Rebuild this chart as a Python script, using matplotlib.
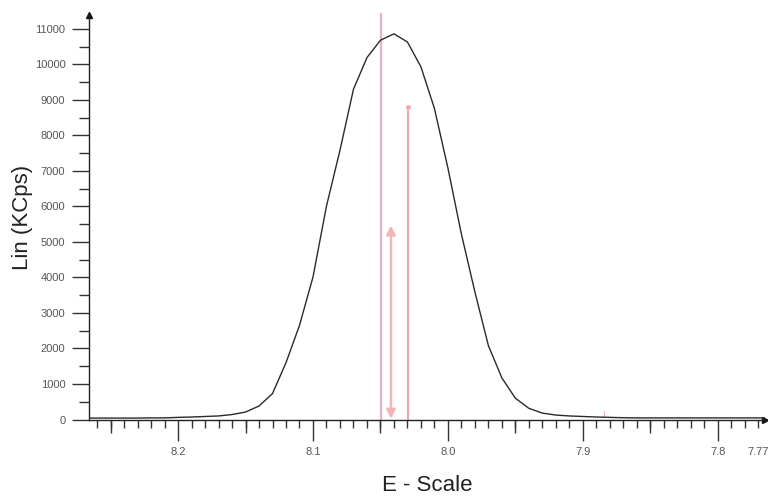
import matplotlib
matplotlib.use("Agg")
import matplotlib.pyplot as plt
from matplotlib.ticker import MultipleLocator, FixedLocator

plt.rcParams["font.family"] = ["Liberation Sans", "DejaVu Sans"]

# scan data
energy = [8.27, 8.26, 8.25, 8.24, 8.23, 8.22, 8.21, 8.20, 8.19, 8.18,
          8.17, 8.16, 8.15, 8.14, 8.13, 8.12, 8.11, 8.10, 8.09, 8.08,
          8.07, 8.06, 8.05, 8.04, 8.03, 8.02, 8.01, 8.00, 7.99, 7.98,
          7.97, 7.96, 7.95, 7.94, 7.93, 7.92, 7.91, 7.90, 7.89, 7.88,
          7.87, 7.86, 7.84, 7.82, 7.80, 7.78, 7.76]
counts = [40, 40, 40, 40, 40, 45, 45, 60, 70, 85,
          100, 140, 210, 380, 730, 1600, 2650, 4010, 6010, 7580,
          9300, 10190, 10680, 10860, 10630, 9930, 8760, 7080, 5220, 3590,
          2080, 1170, 600, 315, 180, 125, 100, 85, 70, 60,
          50, 45, 45, 45, 45, 45, 45]

# markers (pink lines)
marker1_x, marker1_top = 8.0496, 11420
marker2_x, marker2_top = 8.0296, 8790
arrow_x, arrow_low, arrow_high = 8.0422, 20, 5465
blip_x, blip_y = 7.8844, 170

x_major = [8.2, 8.1, 8.0, 7.9, 7.8, 7.77]
x_labels = ["8.2", "8.1", "8.0", "7.9", "7.8", "7.77"]

fig = plt.figure(figsize=(7.68, 4.96), dpi=100)
ax = fig.add_axes([89 / 768, 1 - 419.5 / 496, 676 / 768, 404.5 / 496])

ax.plot(energy, counts, color="#2a2a2a", lw=1.0, zorder=3)

ax.plot([marker1_x, marker1_x], [0, marker1_top], color="#e9b3bb", lw=1.6,
        clip_on=False, zorder=2)
ax.plot([marker2_x, marker2_x], [0, marker2_top], color="#f2a3ab", lw=1.4,
        zorder=2)
ax.plot([marker2_x], [marker2_top], "o", color="#ecaab2", ms=2.5, zorder=2)
ax.plot([blip_x, blip_x], [blip_y - 60, blip_y + 60], color="#f0b0b8", lw=0.8)
ax.annotate("", xy=(arrow_x, arrow_low), xytext=(arrow_x, arrow_high),
            arrowprops=dict(arrowstyle="<|-|>", color="#f4b4b6", lw=1.8,
                            mutation_scale=13, shrinkA=0, shrinkB=0))

ax.set_xlim(8.266, 7.765)
ax.set_ylim(0, 11390)

for s in ["top", "right"]:
    ax.spines[s].set_visible(False)
for s in ["left", "bottom"]:
    ax.spines[s].set_color("#222222")
    ax.spines[s].set_linewidth(1.0)

# little arrow heads at the axis ends
ax.plot(0, 1, "^", color="#111111", ms=4, transform=ax.transAxes, clip_on=False)
ax.plot(1, 0, ">", color="#111111", ms=4, transform=ax.transAxes, clip_on=False)

ax.yaxis.set_major_locator(MultipleLocator(1000))
ax.yaxis.set_minor_locator(MultipleLocator(500))
ax.xaxis.set_major_locator(FixedLocator(x_major))
ax.set_xticklabels(x_labels)
ax.xaxis.set_minor_locator(MultipleLocator(0.01))

ax.tick_params(axis="y", which="major", length=12, width=1, color="#333333",
               labelsize=8, labelcolor="#555555", pad=5)
ax.tick_params(axis="y", which="minor", length=7, width=1, color="#333333")
ax.tick_params(axis="x", which="major", length=15, width=1, color="#333333",
               labelsize=8, labelcolor="#555555", pad=5)
ax.tick_params(axis="x", which="minor", length=6, width=1, color="#333333")
ax.xaxis.get_major_ticks()[-1].tick1line.set_markersize(6)

# medium ticks every 0.05
sec = ax.secondary_xaxis("bottom")
sec.spines["bottom"].set_visible(False)
sec.xaxis.set_major_locator(FixedLocator([8.25, 8.15, 8.05, 7.95, 7.85]))
sec.tick_params(length=9, width=1, color="#333333", labelbottom=False)

ax.set_xlabel("E - Scale", fontsize=16, color="#222222", labelpad=13)
ax.set_ylabel("Lin (KCps)", fontsize=16, color="#222222", labelpad=1)

fig.savefig("out.png", dpi=100)
